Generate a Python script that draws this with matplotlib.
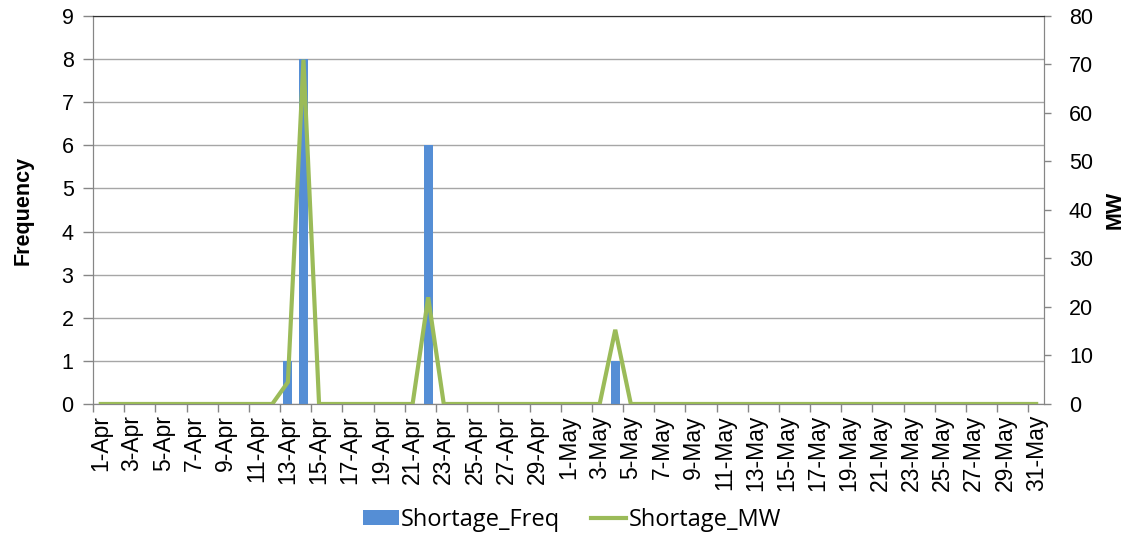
import matplotlib
matplotlib.use("Agg")
import matplotlib.pyplot as plt
import numpy as np
import pandas as pd
from matplotlib.patches import Patch
from matplotlib.lines import Line2D

# ---- data ----
dates = pd.date_range("2014-04-01", "2014-05-31", freq="D")
categories = [f"{d.day}-{d.strftime('%b')}" for d in dates]

shortage_freq = [0, 0, 0, 0, 0, 0, 0, 0, 0, 0,
                 0, 0, 1, 8, 0, 0, 0, 0, 0, 0,
                 0, 6, 0, 0, 0, 0, 0, 0, 0, 0,
                 0, 0, 0, 1, 0, 0, 0, 0, 0, 0,
                 0, 0, 0, 0, 0, 0, 0, 0, 0, 0,
                 0, 0, 0, 0, 0, 0, 0, 0, 0, 0,
                 0]
shortage_mw = [0, 0, 0, 0, 0, 0, 0, 0, 0, 0,
               0, 0, 4.5, 71, 0, 0, 0, 0, 0, 0,
               0, 22, 0, 0, 0, 0, 0, 0, 0, 0,
               0, 0, 0, 15.3, 0, 0, 0, 0, 0, 0,
               0, 0, 0, 0, 0, 0, 0, 0, 0, 0,
               0, 0, 0, 0, 0, 0, 0, 0, 0, 0,
               0]
freq_ticks = list(range(0, 10))
mw_ticks = list(range(0, 90, 10))

# ---- style ----
BLUE = "#558ED5"
GREEN = "#9BBB59"
GRID = "#A6A6A6"
AXC = "#868686"
FONT = "Liberation Sans"

fig = plt.figure(figsize=(11.33, 5.35), dpi=100)
ax = fig.add_axes([0.0821, 0.2449, 0.9214 - 0.0821, 0.9701 - 0.2449])
x = np.arange(len(categories))

ax.bar(x, shortage_freq, width=0.58, color=BLUE, zorder=3)
ax.set_xlim(-0.5, len(categories) - 0.5)
ax.set_ylim(0, 9)
ax.set_yticks(freq_ticks)
ax.grid(axis="y", color=GRID, linewidth=1.0, zorder=0)
ax.set_axisbelow(True)

ax.set_xticks(x[::2])
ax.set_xticklabels(categories[::2], rotation=90, fontsize=16.5, family=FONT)
ax.set_xticks(np.arange(-0.5, len(categories), 2), minor=True)
ax.tick_params(axis="x", which="major", length=0, pad=8)
ax.tick_params(axis="x", which="minor", length=6, color=AXC, width=1)
ax.tick_params(axis="y", length=7, color=AXC, width=1, pad=7, labelsize=15.5)
for lab in ax.get_yticklabels():
    lab.set_family(FONT)

for s in ["left", "bottom", "right"]:
    ax.spines[s].set_color(AXC)
ax.spines["top"].set_color("#303030")

ax.set_ylabel("Frequency", fontsize=15.5, fontweight="bold", family=FONT, labelpad=20)

ax2 = ax.twinx()
ax2.plot(x, shortage_mw, color=GREEN, linewidth=3, solid_joinstyle="miter", zorder=4)
ax2.set_ylim(0, 80)
ax2.set_yticks(mw_ticks)
ax2.tick_params(axis="y", length=5, color=AXC, width=1, pad=13, labelsize=15.5)
for lab in ax2.get_yticklabels():
    lab.set_family(FONT)
for s in ["left", "bottom", "right"]:
    ax2.spines[s].set_color(AXC)
ax2.spines["top"].set_color("#303030")
ax2.set_ylabel("MW", fontsize=15.5, fontweight="bold", family=FONT, rotation=90, labelpad=8)

handles = [Patch(facecolor=BLUE, edgecolor="none"),
           Line2D([0], [0], color=GREEN, linewidth=3)]
fig.legend(handles, ["Shortage_Freq", "Shortage_MW"], loc="center",
           bbox_to_anchor=(0.505, 0.028), ncol=2, frameon=False,
           prop={"family": "Open Sans", "size": 17}, handlelength=1.5,
           handleheight=0.6, handletextpad=0.1, columnspacing=1.3)

fig.savefig("out.png", dpi=100)
